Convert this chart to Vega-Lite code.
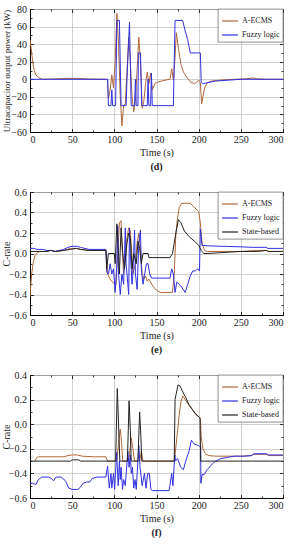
{
  "$schema": "https://vega.github.io/schema/vega-lite/v6.json",
  "padding": {"left": 0, "top": 3, "right": 6, "bottom": 2},
  "spacing": 14,
  "config": {
    "font": "Liberation Serif",
    "view": {"stroke": "black", "strokeWidth": 1},
    "axis": {
      "labelFont": "Liberation Serif", "titleFont": "Liberation Serif",
      "labelFontSize": 10, "titleFontSize": 10, "labelColor": "#222", "titleColor": "#222",
      "titleFontWeight": "normal",
      "gridColor": "#c4c4c4", "gridWidth": 0.8,
      "domainColor": "black", "domainWidth": 1,
      "tickColor": "black", "tickSize": -3.5, "tickWidth": 0.8,
      "labelPadding": 7
    },
    "axisX": {"titlePadding": 3, "labelPadding": 6},
    "axisY": {"titlePadding": 2, "titleX": -19},
    "legend": {
      "orient": "top-right", "offset": 0, "title": null,
      "strokeColor": "#444", "strokeWidth": 0.6, "fillColor": "white",
      "padding": 3, "labelFont": "Liberation Serif", "labelFontSize": 8, "labelColor": "#222",
      "symbolType": "stroke", "symbolSize": 250, "symbolStrokeWidth": 1.2,
      "rowPadding": 1, "labelOffset": 3
    },
    "title": {"font": "Liberation Serif", "fontSize": 10, "fontWeight": "bold", "color": "#222", "orient": "bottom", "offset": 4}
  },
  "resolve": {"scale": {"color": "independent"}, "legend": {"color": "independent"}},
  "datasets": {
    "d": [
      {"s":"A-ECMS","t":0,"v":45},{"s":"A-ECMS","t":1,"v":38},{"s":"A-ECMS","t":2,"v":30},{"s":"A-ECMS","t":3,"v":22},{"s":"A-ECMS","t":4,"v":15},{"s":"A-ECMS","t":5,"v":10},{"s":"A-ECMS","t":7,"v":5},{"s":"A-ECMS","t":9,"v":3},{"s":"A-ECMS","t":12,"v":1},{"s":"A-ECMS","t":15,"v":0},{"s":"A-ECMS","t":30,"v":0.5},{"s":"A-ECMS","t":45,"v":1},{"s":"A-ECMS","t":55,"v":1},{"s":"A-ECMS","t":70,"v":0.3},{"s":"A-ECMS","t":92,"v":0},
      {"s":"A-ECMS","t":93,"v":-22},{"s":"A-ECMS","t":95,"v":-12},{"s":"A-ECMS","t":97,"v":5},{"s":"A-ECMS","t":99,"v":-10},{"s":"A-ECMS","t":101,"v":20},{"s":"A-ECMS","t":103,"v":75},{"s":"A-ECMS","t":105,"v":40},{"s":"A-ECMS","t":107,"v":-20},{"s":"A-ECMS","t":109,"v":-53},{"s":"A-ECMS","t":111,"v":-30},{"s":"A-ECMS","t":113,"v":-28},{"s":"A-ECMS","t":115,"v":10},{"s":"A-ECMS","t":117,"v":48},{"s":"A-ECMS","t":119,"v":20},{"s":"A-ECMS","t":121,"v":-20},{"s":"A-ECMS","t":123,"v":-37},{"s":"A-ECMS","t":125,"v":-25},{"s":"A-ECMS","t":127,"v":10},{"s":"A-ECMS","t":129,"v":48},{"s":"A-ECMS","t":131,"v":20},{"s":"A-ECMS","t":133,"v":-33},{"s":"A-ECMS","t":135,"v":-25},{"s":"A-ECMS","t":137,"v":-5},{"s":"A-ECMS","t":139,"v":8},{"s":"A-ECMS","t":141,"v":-5},{"s":"A-ECMS","t":143,"v":7},{"s":"A-ECMS","t":145,"v":-12},{"s":"A-ECMS","t":148,"v":-5},{"s":"A-ECMS","t":152,"v":-3},{"s":"A-ECMS","t":160,"v":-1},{"s":"A-ECMS","t":166,"v":0},{"s":"A-ECMS","t":168,"v":12},{"s":"A-ECMS","t":170,"v":-1},{"s":"A-ECMS","t":172,"v":25},{"s":"A-ECMS","t":173.5,"v":53},{"s":"A-ECMS","t":176,"v":35},{"s":"A-ECMS","t":179,"v":17},{"s":"A-ECMS","t":182,"v":8},{"s":"A-ECMS","t":186,"v":2},{"s":"A-ECMS","t":190,"v":-3},{"s":"A-ECMS","t":195,"v":-5},{"s":"A-ECMS","t":198,"v":-3},{"s":"A-ECMS","t":200,"v":-1},{"s":"A-ECMS","t":202,"v":-4},{"s":"A-ECMS","t":203.5,"v":-28},{"s":"A-ECMS","t":205,"v":-20},{"s":"A-ECMS","t":207,"v":-10},{"s":"A-ECMS","t":210,"v":-4},{"s":"A-ECMS","t":215,"v":-2},{"s":"A-ECMS","t":225,"v":-1},{"s":"A-ECMS","t":240,"v":0},{"s":"A-ECMS","t":255,"v":0.5},{"s":"A-ECMS","t":265,"v":1.5},{"s":"A-ECMS","t":270,"v":0.5},{"s":"A-ECMS","t":280,"v":0},{"s":"A-ECMS","t":300,"v":0},
      {"s":"Fuzzy logic","t":0,"v":0},{"s":"Fuzzy logic","t":92,"v":0},{"s":"Fuzzy logic","t":93,"v":-30},{"s":"Fuzzy logic","t":96,"v":-30},{"s":"Fuzzy logic","t":97,"v":-12},{"s":"Fuzzy logic","t":98,"v":-30},{"s":"Fuzzy logic","t":101.5,"v":-30},{"s":"Fuzzy logic","t":103,"v":67},{"s":"Fuzzy logic","t":106,"v":67},{"s":"Fuzzy logic","t":108,"v":-30},{"s":"Fuzzy logic","t":114,"v":-30},{"s":"Fuzzy logic","t":115,"v":0},{"s":"Fuzzy logic","t":118,"v":65},{"s":"Fuzzy logic","t":120,"v":-30},{"s":"Fuzzy logic","t":124,"v":-30},{"s":"Fuzzy logic","t":125,"v":0},{"s":"Fuzzy logic","t":126,"v":-30},{"s":"Fuzzy logic","t":128,"v":-30},{"s":"Fuzzy logic","t":128.5,"v":30},{"s":"Fuzzy logic","t":131,"v":30},{"s":"Fuzzy logic","t":132.5,"v":-30},{"s":"Fuzzy logic","t":139,"v":-30},{"s":"Fuzzy logic","t":140,"v":0},{"s":"Fuzzy logic","t":141,"v":-30},{"s":"Fuzzy logic","t":143,"v":-30},{"s":"Fuzzy logic","t":144,"v":7},{"s":"Fuzzy logic","t":145,"v":-30},{"s":"Fuzzy logic","t":170,"v":-30},{"s":"Fuzzy logic","t":172,"v":67},{"s":"Fuzzy logic","t":181,"v":67},{"s":"Fuzzy logic","t":184,"v":55},{"s":"Fuzzy logic","t":187,"v":45},{"s":"Fuzzy logic","t":190,"v":30},{"s":"Fuzzy logic","t":202,"v":30},{"s":"Fuzzy logic","t":203,"v":-3},{"s":"Fuzzy logic","t":205,"v":-5},{"s":"Fuzzy logic","t":210,"v":-4},{"s":"Fuzzy logic","t":220,"v":-2},{"s":"Fuzzy logic","t":235,"v":-1},{"s":"Fuzzy logic","t":250,"v":0},{"s":"Fuzzy logic","t":300,"v":0}
    ],
    "e": [
      {"s":"A-ECMS","t":0,"v":-0.42},{"s":"A-ECMS","t":1,"v":-0.3},{"s":"A-ECMS","t":2,"v":-0.2},{"s":"A-ECMS","t":4,"v":-0.08},{"s":"A-ECMS","t":6,"v":-0.02},{"s":"A-ECMS","t":9,"v":0.01},{"s":"A-ECMS","t":12,"v":0.02},{"s":"A-ECMS","t":20,"v":0.02},{"s":"A-ECMS","t":25,"v":0.03},{"s":"A-ECMS","t":30,"v":0.02},{"s":"A-ECMS","t":40,"v":0.03},{"s":"A-ECMS","t":48,"v":0.05},{"s":"A-ECMS","t":55,"v":0.05},{"s":"A-ECMS","t":60,"v":0.04},{"s":"A-ECMS","t":70,"v":0.03},{"s":"A-ECMS","t":90,"v":0.03},{"s":"A-ECMS","t":91,"v":-0.05},{"s":"A-ECMS","t":92,"v":-0.2},{"s":"A-ECMS","t":95,"v":-0.25},{"s":"A-ECMS","t":99,"v":-0.29},{"s":"A-ECMS","t":102,"v":-0.3},{"s":"A-ECMS","t":104,"v":0.0},{"s":"A-ECMS","t":106,"v":0.3},{"s":"A-ECMS","t":108,"v":0.32},{"s":"A-ECMS","t":109,"v":0.1},{"s":"A-ECMS","t":111,"v":-0.2},{"s":"A-ECMS","t":113,"v":-0.05},{"s":"A-ECMS","t":115,"v":0.15},{"s":"A-ECMS","t":117,"v":0.25},{"s":"A-ECMS","t":119,"v":0.22},{"s":"A-ECMS","t":121,"v":-0.05},{"s":"A-ECMS","t":122,"v":-0.2},{"s":"A-ECMS","t":125,"v":-0.1},{"s":"A-ECMS","t":127,"v":0.1},{"s":"A-ECMS","t":129,"v":0.2},{"s":"A-ECMS","t":131,"v":0.05},{"s":"A-ECMS","t":133,"v":-0.2},{"s":"A-ECMS","t":135,"v":-0.25},{"s":"A-ECMS","t":137,"v":-0.22},{"s":"A-ECMS","t":139,"v":-0.27},{"s":"A-ECMS","t":141,"v":-0.25},{"s":"A-ECMS","t":143,"v":-0.28},{"s":"A-ECMS","t":146,"v":-0.32},{"s":"A-ECMS","t":150,"v":-0.36},{"s":"A-ECMS","t":155,"v":-0.38},{"s":"A-ECMS","t":169,"v":-0.38},{"s":"A-ECMS","t":171,"v":-0.2},{"s":"A-ECMS","t":173,"v":0.2},{"s":"A-ECMS","t":175,"v":0.35},{"s":"A-ECMS","t":177,"v":0.45},{"s":"A-ECMS","t":180,"v":0.49},{"s":"A-ECMS","t":190,"v":0.49},{"s":"A-ECMS","t":195,"v":0.45},{"s":"A-ECMS","t":200,"v":0.41},{"s":"A-ECMS","t":202,"v":0.3},{"s":"A-ECMS","t":204,"v":0.1},{"s":"A-ECMS","t":207,"v":0.03},{"s":"A-ECMS","t":210,"v":0.02},{"s":"A-ECMS","t":230,"v":0.02},{"s":"A-ECMS","t":250,"v":0.02},{"s":"A-ECMS","t":270,"v":0.03},{"s":"A-ECMS","t":280,"v":0.03},{"s":"A-ECMS","t":283,"v":0.02},{"s":"A-ECMS","t":300,"v":0.02},
      {"s":"Fuzzy logic","t":0,"v":0.05},{"s":"Fuzzy logic","t":5,"v":0.05},{"s":"Fuzzy logic","t":8,"v":0.04},{"s":"Fuzzy logic","t":15,"v":0.04},{"s":"Fuzzy logic","t":20,"v":0.03},{"s":"Fuzzy logic","t":25,"v":0.03},{"s":"Fuzzy logic","t":30,"v":0.02},{"s":"Fuzzy logic","t":40,"v":0.04},{"s":"Fuzzy logic","t":45,"v":0.06},{"s":"Fuzzy logic","t":50,"v":0.07},{"s":"Fuzzy logic","t":56,"v":0.07},{"s":"Fuzzy logic","t":60,"v":0.06},{"s":"Fuzzy logic","t":70,"v":0.04},{"s":"Fuzzy logic","t":90,"v":0.04},{"s":"Fuzzy logic","t":91,"v":-0.18},{"s":"Fuzzy logic","t":93,"v":-0.2},{"s":"Fuzzy logic","t":95,"v":-0.1},{"s":"Fuzzy logic","t":97,"v":-0.2},{"s":"Fuzzy logic","t":99,"v":-0.15},{"s":"Fuzzy logic","t":101,"v":-0.38},{"s":"Fuzzy logic","t":103,"v":-0.1},{"s":"Fuzzy logic","t":104,"v":0.27},{"s":"Fuzzy logic","t":105,"v":-0.2},{"s":"Fuzzy logic","t":107,"v":-0.4},{"s":"Fuzzy logic","t":109,"v":-0.2},{"s":"Fuzzy logic","t":111,"v":-0.3},{"s":"Fuzzy logic","t":113,"v":0.25},{"s":"Fuzzy logic","t":114,"v":-0.1},{"s":"Fuzzy logic","t":116,"v":-0.3},{"s":"Fuzzy logic","t":117,"v":-0.4},{"s":"Fuzzy logic","t":118,"v":0.25},{"s":"Fuzzy logic","t":119,"v":0.0},{"s":"Fuzzy logic","t":121,"v":-0.3},{"s":"Fuzzy logic","t":122,"v":-0.2},{"s":"Fuzzy logic","t":124,"v":0.23},{"s":"Fuzzy logic","t":125,"v":-0.2},{"s":"Fuzzy logic","t":127,"v":-0.35},{"s":"Fuzzy logic","t":129,"v":0.1},{"s":"Fuzzy logic","t":131,"v":0.23},{"s":"Fuzzy logic","t":132,"v":-0.15},{"s":"Fuzzy logic","t":134,"v":-0.3},{"s":"Fuzzy logic","t":136,"v":-0.2},{"s":"Fuzzy logic","t":138,"v":-0.1},{"s":"Fuzzy logic","t":140,"v":-0.1},{"s":"Fuzzy logic","t":142,"v":-0.2},{"s":"Fuzzy logic","t":144,"v":-0.24},{"s":"Fuzzy logic","t":166,"v":-0.24},{"s":"Fuzzy logic","t":168,"v":-0.15},{"s":"Fuzzy logic","t":170,"v":-0.2},{"s":"Fuzzy logic","t":172,"v":-0.38},{"s":"Fuzzy logic","t":174,"v":-0.28},{"s":"Fuzzy logic","t":177,"v":-0.3},{"s":"Fuzzy logic","t":180,"v":-0.33},{"s":"Fuzzy logic","t":184,"v":-0.38},{"s":"Fuzzy logic","t":187,"v":-0.3},{"s":"Fuzzy logic","t":190,"v":-0.22},{"s":"Fuzzy logic","t":193,"v":-0.17},{"s":"Fuzzy logic","t":196,"v":-0.17},{"s":"Fuzzy logic","t":199,"v":-0.15},{"s":"Fuzzy logic","t":201,"v":-0.17},{"s":"Fuzzy logic","t":202,"v":0.24},{"s":"Fuzzy logic","t":204,"v":0.08},{"s":"Fuzzy logic","t":210,"v":0.075},{"s":"Fuzzy logic","t":230,"v":0.07},{"s":"Fuzzy logic","t":250,"v":0.065},{"s":"Fuzzy logic","t":265,"v":0.06},{"s":"Fuzzy logic","t":280,"v":0.06},{"s":"Fuzzy logic","t":282,"v":0.05},{"s":"Fuzzy logic","t":300,"v":0.05},
      {"s":"State-based","t":0,"v":0.02},{"s":"State-based","t":20,"v":0.02},{"s":"State-based","t":25,"v":0.03},{"s":"State-based","t":30,"v":0.02},{"s":"State-based","t":40,"v":0.03},{"s":"State-based","t":48,"v":0.04},{"s":"State-based","t":55,"v":0.05},{"s":"State-based","t":60,"v":0.04},{"s":"State-based","t":70,"v":0.03},{"s":"State-based","t":90,"v":0.03},{"s":"State-based","t":91,"v":-0.15},{"s":"State-based","t":93,"v":0.0},{"s":"State-based","t":100,"v":0.0},{"s":"State-based","t":101,"v":-0.1},{"s":"State-based","t":103,"v":0.29},{"s":"State-based","t":105,"v":0.0},{"s":"State-based","t":106,"v":-0.2},{"s":"State-based","t":108,"v":0.25},{"s":"State-based","t":110,"v":0.0},{"s":"State-based","t":112,"v":-0.15},{"s":"State-based","t":115,"v":0.1},{"s":"State-based","t":117,"v":0.2},{"s":"State-based","t":119,"v":0.15},{"s":"State-based","t":121,"v":-0.15},{"s":"State-based","t":123,"v":0.0},{"s":"State-based","t":126,"v":-0.1},{"s":"State-based","t":128,"v":0.12},{"s":"State-based","t":130,"v":0.05},{"s":"State-based","t":132,"v":-0.1},{"s":"State-based","t":134,"v":0.0},{"s":"State-based","t":140,"v":0.0},{"s":"State-based","t":141,"v":-0.04},{"s":"State-based","t":166,"v":-0.04},{"s":"State-based","t":169,"v":0.0},{"s":"State-based","t":171,"v":0.1},{"s":"State-based","t":173,"v":0.2},{"s":"State-based","t":176,"v":0.33},{"s":"State-based","t":179,"v":0.3},{"s":"State-based","t":183,"v":0.22},{"s":"State-based","t":188,"v":0.17},{"s":"State-based","t":195,"v":0.12},{"s":"State-based","t":200,"v":0.08},{"s":"State-based","t":203,"v":0.03},{"s":"State-based","t":206,"v":0.0},{"s":"State-based","t":210,"v":0.0},{"s":"State-based","t":230,"v":0.01},{"s":"State-based","t":250,"v":0.02},{"s":"State-based","t":270,"v":0.02},{"s":"State-based","t":280,"v":0.03},{"s":"State-based","t":283,"v":0.02},{"s":"State-based","t":300,"v":0.02}
    ],
    "f": [
      {"s":"A-ECMS","t":6,"v":-0.3},{"s":"A-ECMS","t":8,"v":-0.27},{"s":"A-ECMS","t":10,"v":-0.265},{"s":"A-ECMS","t":40,"v":-0.265},{"s":"A-ECMS","t":45,"v":-0.255},{"s":"A-ECMS","t":50,"v":-0.25},{"s":"A-ECMS","t":56,"v":-0.25},{"s":"A-ECMS","t":62,"v":-0.26},{"s":"A-ECMS","t":75,"v":-0.265},{"s":"A-ECMS","t":90,"v":-0.265},{"s":"A-ECMS","t":92,"v":-0.3},{"s":"A-ECMS","t":103,"v":-0.3},{"s":"A-ECMS","t":105,"v":-0.15},{"s":"A-ECMS","t":107,"v":-0.04},{"s":"A-ECMS","t":108,"v":-0.1},{"s":"A-ECMS","t":110,"v":-0.3},{"s":"A-ECMS","t":117,"v":-0.3},{"s":"A-ECMS","t":119,"v":-0.18},{"s":"A-ECMS","t":120,"v":-0.11},{"s":"A-ECMS","t":122,"v":-0.2},{"s":"A-ECMS","t":124,"v":-0.3},{"s":"A-ECMS","t":130,"v":-0.3},{"s":"A-ECMS","t":132,"v":-0.22},{"s":"A-ECMS","t":134,"v":-0.3},{"s":"A-ECMS","t":171,"v":-0.3},{"s":"A-ECMS","t":172,"v":-0.25},{"s":"A-ECMS","t":175,"v":-0.05},{"s":"A-ECMS","t":177,"v":0.08},{"s":"A-ECMS","t":179,"v":0.18},{"s":"A-ECMS","t":181,"v":0.23},{"s":"A-ECMS","t":184,"v":0.2},{"s":"A-ECMS","t":190,"v":0.14},{"s":"A-ECMS","t":196,"v":0.09},{"s":"A-ECMS","t":200,"v":0.06},{"s":"A-ECMS","t":202,"v":0.05},{"s":"A-ECMS","t":203,"v":-0.1},{"s":"A-ECMS","t":205,"v":-0.2},{"s":"A-ECMS","t":208,"v":-0.24},{"s":"A-ECMS","t":212,"v":-0.255},{"s":"A-ECMS","t":220,"v":-0.26},{"s":"A-ECMS","t":250,"v":-0.26},{"s":"A-ECMS","t":262,"v":-0.255},{"s":"A-ECMS","t":266,"v":-0.245},{"s":"A-ECMS","t":280,"v":-0.245},{"s":"A-ECMS","t":283,"v":-0.255},{"s":"A-ECMS","t":300,"v":-0.255},
      {"s":"Fuzzy logic","t":0,"v":-0.48},{"s":"Fuzzy logic","t":3,"v":-0.48},{"s":"Fuzzy logic","t":7,"v":-0.49},{"s":"Fuzzy logic","t":10,"v":-0.45},{"s":"Fuzzy logic","t":14,"v":-0.43},{"s":"Fuzzy logic","t":22,"v":-0.43},{"s":"Fuzzy logic","t":25,"v":-0.44},{"s":"Fuzzy logic","t":28,"v":-0.46},{"s":"Fuzzy logic","t":31,"v":-0.43},{"s":"Fuzzy logic","t":37,"v":-0.43},{"s":"Fuzzy logic","t":42,"v":-0.46},{"s":"Fuzzy logic","t":46,"v":-0.52},{"s":"Fuzzy logic","t":50,"v":-0.53},{"s":"Fuzzy logic","t":57,"v":-0.53},{"s":"Fuzzy logic","t":60,"v":-0.51},{"s":"Fuzzy logic","t":63,"v":-0.48},{"s":"Fuzzy logic","t":67,"v":-0.47},{"s":"Fuzzy logic","t":71,"v":-0.47},{"s":"Fuzzy logic","t":74,"v":-0.44},{"s":"Fuzzy logic","t":80,"v":-0.43},{"s":"Fuzzy logic","t":90,"v":-0.43},{"s":"Fuzzy logic","t":92,"v":-0.34},{"s":"Fuzzy logic","t":94,"v":-0.52},{"s":"Fuzzy logic","t":96,"v":-0.4},{"s":"Fuzzy logic","t":97,"v":-0.52},{"s":"Fuzzy logic","t":99,"v":-0.4},{"s":"Fuzzy logic","t":100.4,"v":-0.53},{"s":"Fuzzy logic","t":102.7,"v":-0.23},{"s":"Fuzzy logic","t":104.6,"v":-0.5},{"s":"Fuzzy logic","t":106,"v":-0.3},{"s":"Fuzzy logic","t":107,"v":-0.45},{"s":"Fuzzy logic","t":108,"v":-0.35},{"s":"Fuzzy logic","t":109.7,"v":-0.53},{"s":"Fuzzy logic","t":111,"v":-0.45},{"s":"Fuzzy logic","t":113,"v":-0.5},{"s":"Fuzzy logic","t":116,"v":-0.22},{"s":"Fuzzy logic","t":117.5,"v":-0.35},{"s":"Fuzzy logic","t":119,"v":-0.25},{"s":"Fuzzy logic","t":120,"v":-0.4},{"s":"Fuzzy logic","t":121.5,"v":-0.35},{"s":"Fuzzy logic","t":123,"v":-0.52},{"s":"Fuzzy logic","t":124.5,"v":-0.45},{"s":"Fuzzy logic","t":126,"v":-0.53},{"s":"Fuzzy logic","t":129,"v":-0.17},{"s":"Fuzzy logic","t":130.5,"v":-0.35},{"s":"Fuzzy logic","t":133,"v":-0.5},{"s":"Fuzzy logic","t":135.7,"v":-0.4},{"s":"Fuzzy logic","t":137.6,"v":-0.52},{"s":"Fuzzy logic","t":139.5,"v":-0.4},{"s":"Fuzzy logic","t":141.5,"v":-0.4},{"s":"Fuzzy logic","t":143.4,"v":-0.53},{"s":"Fuzzy logic","t":145,"v":-0.54},{"s":"Fuzzy logic","t":165,"v":-0.54},{"s":"Fuzzy logic","t":168,"v":-0.4},{"s":"Fuzzy logic","t":169.5,"v":-0.5},{"s":"Fuzzy logic","t":171.7,"v":-0.25},{"s":"Fuzzy logic","t":172.5,"v":-0.3},{"s":"Fuzzy logic","t":175,"v":-0.28},{"s":"Fuzzy logic","t":178.7,"v":-0.35},{"s":"Fuzzy logic","t":181.9,"v":-0.37},{"s":"Fuzzy logic","t":184.6,"v":-0.3},{"s":"Fuzzy logic","t":188.6,"v":-0.22},{"s":"Fuzzy logic","t":191.4,"v":-0.13},{"s":"Fuzzy logic","t":194.5,"v":-0.16},{"s":"Fuzzy logic","t":198.5,"v":-0.17},{"s":"Fuzzy logic","t":201,"v":-0.18},{"s":"Fuzzy logic","t":202.4,"v":-0.18},{"s":"Fuzzy logic","t":202.6,"v":-0.48},{"s":"Fuzzy logic","t":204,"v":-0.41},{"s":"Fuzzy logic","t":206.4,"v":-0.41},{"s":"Fuzzy logic","t":210,"v":-0.37},{"s":"Fuzzy logic","t":218,"v":-0.31},{"s":"Fuzzy logic","t":226,"v":-0.28},{"s":"Fuzzy logic","t":234,"v":-0.27},{"s":"Fuzzy logic","t":242,"v":-0.26},{"s":"Fuzzy logic","t":255,"v":-0.26},{"s":"Fuzzy logic","t":263,"v":-0.255},{"s":"Fuzzy logic","t":265,"v":-0.24},{"s":"Fuzzy logic","t":280,"v":-0.24},{"s":"Fuzzy logic","t":283,"v":-0.25},{"s":"Fuzzy logic","t":300,"v":-0.25},
      {"s":"State-based","t":0,"v":-0.3},{"s":"State-based","t":48,"v":-0.3},{"s":"State-based","t":50,"v":-0.29},{"s":"State-based","t":58,"v":-0.29},{"s":"State-based","t":60,"v":-0.3},{"s":"State-based","t":101.5,"v":-0.3},{"s":"State-based","t":103.5,"v":0.29},{"s":"State-based","t":105,"v":0.0},{"s":"State-based","t":106.5,"v":-0.3},{"s":"State-based","t":115.5,"v":-0.3},{"s":"State-based","t":117.5,"v":0.19},{"s":"State-based","t":119,"v":-0.05},{"s":"State-based","t":120,"v":-0.3},{"s":"State-based","t":128,"v":-0.3},{"s":"State-based","t":130,"v":0.1},{"s":"State-based","t":131.5,"v":-0.1},{"s":"State-based","t":132.5,"v":-0.3},{"s":"State-based","t":171,"v":-0.3},{"s":"State-based","t":172,"v":0.2},{"s":"State-based","t":175.5,"v":0.32},{"s":"State-based","t":178,"v":0.31},{"s":"State-based","t":180.6,"v":0.27},{"s":"State-based","t":184.5,"v":0.22},{"s":"State-based","t":188.5,"v":0.16},{"s":"State-based","t":192.5,"v":0.12},{"s":"State-based","t":196.4,"v":0.08},{"s":"State-based","t":200.4,"v":0.06},{"s":"State-based","t":201.6,"v":0.05},{"s":"State-based","t":202.4,"v":-0.3},{"s":"State-based","t":300,"v":-0.3}
    ]
  },
  "vconcat": [
    {
      "width": 253, "height": 123,
      "title": {"text": "(d)"},
      "data": {"name": "d"},
      "resolve": {"axis": {"x": "independent", "y": "independent"}},
      "layer": [
        {
          "mark": {"type": "line", "strokeWidth": 1, "clip": true},
          "encoding": {
            "x": {"field": "t", "type": "quantitative", "scale": {"domain": [0, 300], "nice": false, "zero": false}, "axis": {"orient": "bottom", "values": [0,50,100,150,200,250,300], "title": "Time (s)"}},
            "y": {"field": "v", "type": "quantitative", "scale": {"domain": [-60, 80], "nice": false, "zero": false}, "axis": {"orient": "left", "values": [-60,-40,-20,0,20,40,60,80], "title": "Ultracapacitor output power (kW)", "titleFontSize": 9}},
            "color": {"field": "s", "type": "nominal", "scale": {"domain": ["A-ECMS", "Fuzzy logic"], "range": ["#b0683a", "#3030e0"]}}
          }
        },
        {
          "mark": {"type": "line", "opacity": 0},
          "encoding": {
            "x": {"field": "t", "type": "quantitative", "scale": {"domain": [0, 300], "nice": false, "zero": false}, "axis": {"orient": "top", "values": [0,50,100,150,200,250,300], "labels": false, "title": null, "grid": false, "domain": false}},
            "y": {"field": "v", "type": "quantitative", "scale": {"domain": [-60, 80], "nice": false, "zero": false}, "axis": {"orient": "right", "values": [-60,-40,-20,0,20,40,60,80], "labels": false, "title": null, "grid": false, "domain": false}}
          }
        },
        {
          "mark": {"type": "line", "opacity": 0},
          "encoding": {
            "x": {"field": "t", "type": "quantitative", "scale": {"domain": [0, 300], "nice": false, "zero": false}, "axis": {"orient": "bottom", "values": [25,75,125,175,225,275], "labels": false, "title": null, "grid": false, "domain": false, "tickSize": -2}},
            "y": {"field": "v", "type": "quantitative", "scale": {"domain": [-60, 80], "nice": false, "zero": false}, "axis": {"orient": "left", "values": [-50,-30,-10,10,30,50,70], "labels": false, "title": null, "grid": false, "domain": false, "tickSize": -2}}
          }
        },
        {
          "mark": {"type": "line", "opacity": 0},
          "encoding": {
            "x": {"field": "t", "type": "quantitative", "scale": {"domain": [0, 300], "nice": false, "zero": false}, "axis": {"orient": "top", "values": [25,75,125,175,225,275], "labels": false, "title": null, "grid": false, "domain": false, "tickSize": -2}},
            "y": {"field": "v", "type": "quantitative", "scale": {"domain": [-60, 80], "nice": false, "zero": false}, "axis": {"orient": "right", "values": [-50,-30,-10,10,30,50,70], "labels": false, "title": null, "grid": false, "domain": false, "tickSize": -2}}
          }
        }
      ]
    },
    {
      "width": 253, "height": 123,
      "title": {"text": "(e)"},
      "data": {"name": "e"},
      "resolve": {"axis": {"x": "independent", "y": "independent"}},
      "layer": [
        {
          "mark": {"type": "line", "strokeWidth": 1, "clip": true},
          "encoding": {
            "x": {"field": "t", "type": "quantitative", "scale": {"domain": [0, 300], "nice": false, "zero": false}, "axis": {"orient": "bottom", "values": [0,50,100,150,200,250,300], "title": "Time (s)"}},
            "y": {"field": "v", "type": "quantitative", "scale": {"domain": [-0.6, 0.6], "nice": false, "zero": false}, "axis": {"orient": "left", "values": [-0.6,-0.4,-0.2,0,0.2,0.4,0.6], "format": ".1f", "title": "C-rate"}},
            "color": {"field": "s", "type": "nominal", "scale": {"domain": ["A-ECMS", "Fuzzy logic", "State-based"], "range": ["#b0683a", "#3030e0", "#222222"]}}
          }
        },
        {
          "mark": {"type": "line", "opacity": 0},
          "encoding": {
            "x": {"field": "t", "type": "quantitative", "scale": {"domain": [0, 300], "nice": false, "zero": false}, "axis": {"orient": "top", "values": [0,50,100,150,200,250,300], "labels": false, "title": null, "grid": false, "domain": false}},
            "y": {"field": "v", "type": "quantitative", "scale": {"domain": [-0.6, 0.6], "nice": false, "zero": false}, "axis": {"orient": "right", "values": [-0.6,-0.4,-0.2,0,0.2,0.4,0.6], "labels": false, "title": null, "grid": false, "domain": false}}
          }
        },
        {
          "mark": {"type": "line", "opacity": 0},
          "encoding": {
            "x": {"field": "t", "type": "quantitative", "scale": {"domain": [0, 300], "nice": false, "zero": false}, "axis": {"orient": "bottom", "values": [25,75,125,175,225,275], "labels": false, "title": null, "grid": false, "domain": false, "tickSize": -2}},
            "y": {"field": "v", "type": "quantitative", "scale": {"domain": [-0.6, 0.6], "nice": false, "zero": false}, "axis": {"orient": "left", "values": [-0.5,-0.3,-0.1,0.1,0.3,0.5], "labels": false, "title": null, "grid": false, "domain": false, "tickSize": -2}}
          }
        },
        {
          "mark": {"type": "line", "opacity": 0},
          "encoding": {
            "x": {"field": "t", "type": "quantitative", "scale": {"domain": [0, 300], "nice": false, "zero": false}, "axis": {"orient": "top", "values": [25,75,125,175,225,275], "labels": false, "title": null, "grid": false, "domain": false, "tickSize": -2}},
            "y": {"field": "v", "type": "quantitative", "scale": {"domain": [-0.6, 0.6], "nice": false, "zero": false}, "axis": {"orient": "right", "values": [-0.5,-0.3,-0.1,0.1,0.3,0.5], "labels": false, "title": null, "grid": false, "domain": false, "tickSize": -2}}
          }
        }
      ]
    },
    {
      "width": 253, "height": 123,
      "title": {"text": "(f)"},
      "data": {"name": "f"},
      "resolve": {"axis": {"x": "independent", "y": "independent"}},
      "layer": [
        {
          "mark": {"type": "line", "strokeWidth": 1, "clip": true},
          "encoding": {
            "x": {"field": "t", "type": "quantitative", "scale": {"domain": [0, 300], "nice": false, "zero": false}, "axis": {"orient": "bottom", "values": [0,50,100,150,200,250,300], "title": "Time (s)"}},
            "y": {"field": "v", "type": "quantitative", "scale": {"domain": [-0.6, 0.4], "nice": false, "zero": false}, "axis": {"orient": "left", "values": [-0.6,-0.4,-0.2,0,0.2,0.4], "format": ".1f", "title": "C-rate"}},
            "color": {"field": "s", "type": "nominal", "scale": {"domain": ["A-ECMS", "Fuzzy logic", "State-based"], "range": ["#b0683a", "#3030e0", "#222222"]}}
          }
        },
        {
          "mark": {"type": "line", "opacity": 0},
          "encoding": {
            "x": {"field": "t", "type": "quantitative", "scale": {"domain": [0, 300], "nice": false, "zero": false}, "axis": {"orient": "top", "values": [0,50,100,150,200,250,300], "labels": false, "title": null, "grid": false, "domain": false}},
            "y": {"field": "v", "type": "quantitative", "scale": {"domain": [-0.6, 0.4], "nice": false, "zero": false}, "axis": {"orient": "right", "values": [-0.6,-0.4,-0.2,0,0.2,0.4], "labels": false, "title": null, "grid": false, "domain": false}}
          }
        },
        {
          "mark": {"type": "line", "opacity": 0},
          "encoding": {
            "x": {"field": "t", "type": "quantitative", "scale": {"domain": [0, 300], "nice": false, "zero": false}, "axis": {"orient": "bottom", "values": [25,75,125,175,225,275], "labels": false, "title": null, "grid": false, "domain": false, "tickSize": -2}},
            "y": {"field": "v", "type": "quantitative", "scale": {"domain": [-0.6, 0.4], "nice": false, "zero": false}, "axis": {"orient": "left", "values": [-0.5,-0.3,-0.1,0.1,0.3], "labels": false, "title": null, "grid": false, "domain": false, "tickSize": -2}}
          }
        },
        {
          "mark": {"type": "line", "opacity": 0},
          "encoding": {
            "x": {"field": "t", "type": "quantitative", "scale": {"domain": [0, 300], "nice": false, "zero": false}, "axis": {"orient": "top", "values": [25,75,125,175,225,275], "labels": false, "title": null, "grid": false, "domain": false, "tickSize": -2}},
            "y": {"field": "v", "type": "quantitative", "scale": {"domain": [-0.6, 0.4], "nice": false, "zero": false}, "axis": {"orient": "right", "values": [-0.5,-0.3,-0.1,0.1,0.3], "labels": false, "title": null, "grid": false, "domain": false, "tickSize": -2}}
          }
        }
      ]
    }
  ]
}
